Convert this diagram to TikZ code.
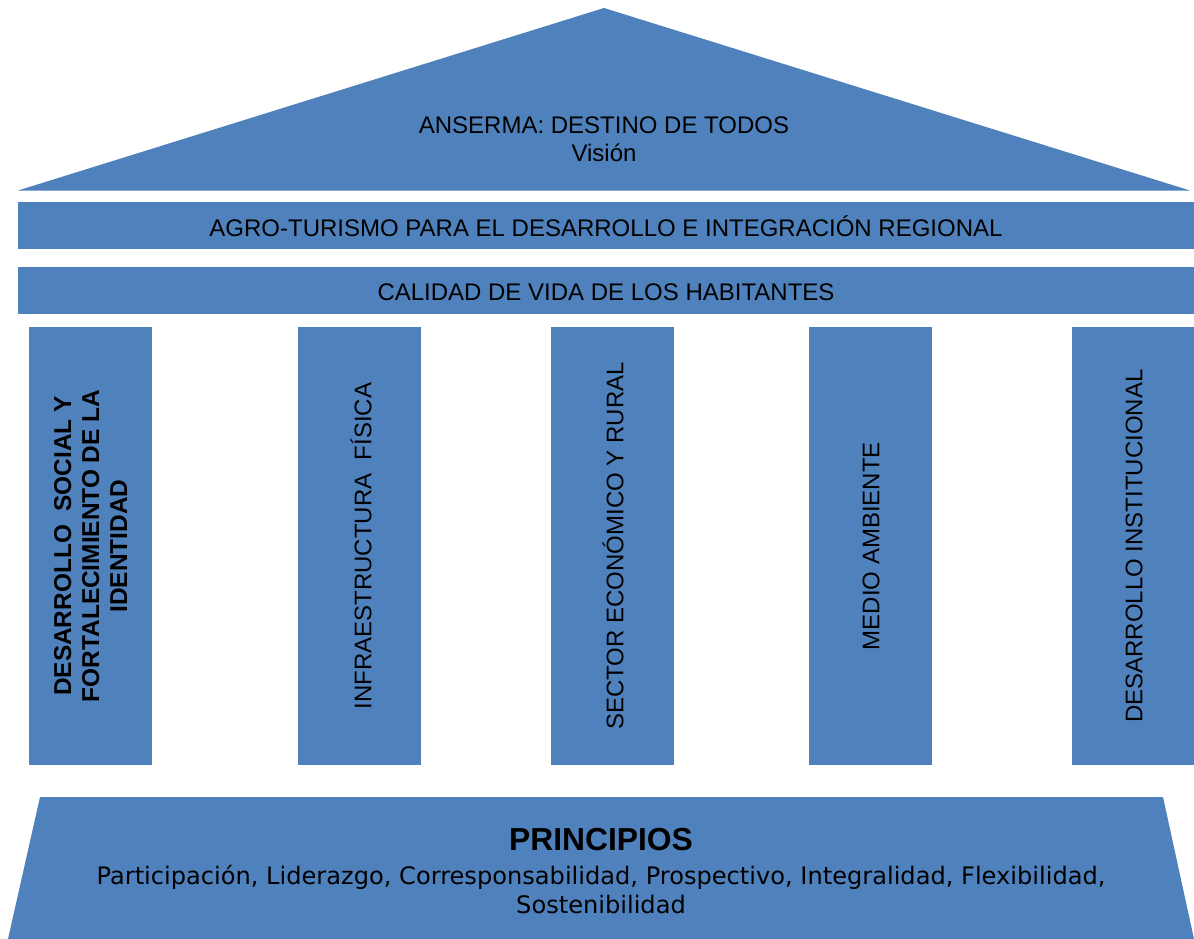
\documentclass[tikz,border=0pt]{standalone}
\usepackage{fontspec}
\setmainfont{Liberation Sans}
\newfontfamily\verdanalike{DejaVu Sans}
\definecolor{accentblue}{HTML}{4F81BD}
\begin{document}
\begin{tikzpicture}[x=1pt,y=-1pt,
  block/.style={fill=accentblue,draw=none},
  lbl/.style={inner sep=0pt,align=center,font=\fontsize{24}{28}\selectfont},
  vlbl/.style={lbl,rotate=90},
  blbl/.style={vlbl,font=\fontsize{24.4}{28}\selectfont\bfseries}]
\useasboundingbox (0,0) rectangle (1194,939);
% roof
\fill[block] (18,190.5) -- (604,8) -- (1190,190.5) -- cycle;
\node[lbl] (vision) at (604,139) {ANSERMA: DESTINO DE TODOS\\Visión};
% bars
\fill[block] (18,202) rectangle (1194,249);
\node[lbl] (agro) at (606,226) {AGRO-TURISMO PARA EL DESARROLLO E INTEGRACIÓN REGIONAL};
\fill[block] (18,267) rectangle (1194,314);
\node[lbl] (calidad) at (606,292) {CALIDAD DE VIDA DE LOS HABITANTES};
% pillars
\fill[block] (29,327) rectangle (152,765);
\fill[block] (298,327) rectangle (421,765);
\fill[block] (551,327) rectangle (674,765);
\fill[block] (809,327) rectangle (932,765);
\fill[block] (1072,327) rectangle (1194,765);
\node[blbl] (p1) at (90.5,546) {DESARROLLO\ \ SOCIAL Y\\FORTALECIMIENTO DE LA\\IDENTIDAD};
\node[vlbl] (p2) at (361,546) {INFRAESTRUCTURA\ \ FÍSICA};
\node[vlbl] (p3) at (613,546) {SECTOR ECONÓMICO Y RURAL};
\node[vlbl] (p4) at (871,546) {MEDIO AMBIENTE};
\node[vlbl] (p5) at (1134,546) {DESARROLLO INSTITUCIONAL};
% base
\fill[block] (40,797) -- (1163,797) -- (1194,939) -- (8,939) -- cycle;
\node[lbl,font=\fontsize{31.8}{34}\selectfont\bfseries] (princ) at (601,840) {PRINCIPIOS};
\node[lbl,font=\verdanalike\fontsize{24.1}{29}\selectfont] (plist) at (601,890) {Participación, Liderazgo, Corresponsabilidad, Prospectivo, Integralidad, Flexibilidad,\\Sostenibilidad};
\end{tikzpicture}
\end{document}
